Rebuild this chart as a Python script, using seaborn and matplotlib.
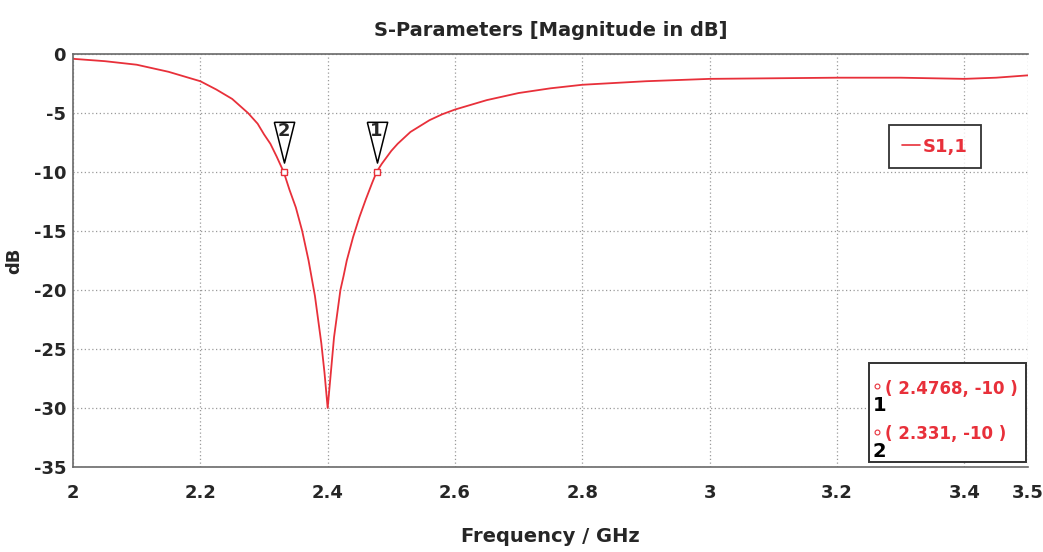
import matplotlib
matplotlib.use('Agg')
import matplotlib.pyplot as plt
import seaborn as sns
import pandas as pd

# S1,1 readings (GHz, dB)
freq = [2.0, 2.05, 2.1, 2.15, 2.2, 2.225, 2.25, 2.275, 2.29, 2.3, 2.31, 2.32, 2.331,
        2.34, 2.35, 2.36, 2.37, 2.38, 2.39, 2.395, 2.4, 2.405, 2.41, 2.415, 2.42,
        2.425, 2.43, 2.44, 2.45, 2.46, 2.47, 2.4768, 2.485, 2.5, 2.51, 2.53, 2.56,
        2.58, 2.6, 2.625, 2.65, 2.7, 2.75, 2.8, 2.85, 2.9, 2.95, 3.0, 3.1, 3.2,
        3.3, 3.4, 3.45, 3.5]
s11 = [-0.4, -0.6, -0.9, -1.5, -2.3, -3.0, -3.8, -5.0, -5.9, -6.8, -7.6, -8.7, -10.0,
       -11.5, -13.0, -15.0, -17.5, -20.5, -24.5, -27.0, -30.0, -27.0, -24.0, -22.0, -20.0,
       -18.8, -17.5, -15.5, -13.8, -12.3, -10.9, -10.0, -9.3, -8.2, -7.6, -6.6, -5.6,
       -5.1, -4.7, -4.3, -3.9, -3.3, -2.9, -2.6, -2.45, -2.3, -2.2, -2.1, -2.05, -2.0,
       -2.0, -2.1, -2.0, -1.8]

marker_ids = ["1", "2"]
marker_f = [2.4768, 2.331]
marker_db = [-10, -10]
marker_txt = ["( 2.4768, -10 )", "( 2.331, -10 )"]

x_ticks = [2, 2.2, 2.4, 2.6, 2.8, 3, 3.2, 3.4, 3.5]
x_tick_labels = ["2", "2.2", "2.4", "2.6", "2.8", "3", "3.2", "3.4", "3.5"]
y_ticks = [0, -5, -10, -15, -20, -25, -30, -35]

df = pd.DataFrame({"Frequency / GHz": freq, "dB": s11})

sns.set_style("white")
plt.rcParams['font.family'] = ['DejaVu Sans']
plt.rcParams['font.weight'] = 'bold'
plt.rcParams['axes.unicode_minus'] = False

RED = '#e8303a'
fig = plt.figure(figsize=(10.43, 5.52), dpi=100)
ax = fig.add_axes([0.070, 0.154, 0.9156, 0.748])

sns.lineplot(data=df, x="Frequency / GHz", y="dB", ax=ax, color=RED, lw=1.3)

ax.set_xlim(2, 3.5)
ax.set_ylim(-35, 0)
ax.set_xticks(x_ticks)
ax.set_xticklabels(x_tick_labels)
ax.set_yticks(y_ticks)
ax.grid(True, color='#9a9a9a', linestyle=(0, (1, 2)), lw=0.9)
ax.tick_params(axis='both', labelsize=13, length=0)
ax.tick_params(axis='x', pad=12)
ax.tick_params(axis='y', pad=5)
for lab in ax.get_xticklabels() + ax.get_yticklabels():
    lab.set_fontweight('bold')
for side in ['left', 'top', 'bottom']:
    ax.spines[side].set_color('#6a6a6a')
    ax.spines[side].set_linewidth(1.2)
ax.spines['right'].set_visible(False)

ax.set_title("S-Parameters [Magnitude in dB]", fontsize=14, fontweight='bold', pad=13)
ax.set_xlabel("Frequency / GHz", fontsize=14, fontweight='bold', labelpad=18)
ax.set_ylabel("dB", fontsize=13, fontweight='bold')
ax.yaxis.set_label_coords(-0.052, 0.5)

# markers on the curve with numbered flags (tall downward pennant)
flag = [(-1, 1), (1, 1), (0, -3), (-1, 1)]
ax.plot(marker_f, marker_db, 's', ms=5, mfc='white', mec=RED, mew=1.0, zorder=5)
for mid, f, d in zip(marker_ids, marker_f, marker_db):
    ax.plot([f], [d + 3.4], marker=flag, ms=44, mfc='white', mec='black',
            mew=1.1, ls='none', zorder=6)
    ax.text(f, d + 3.5, mid, ha='center', va='center', fontsize=13,
            fontweight='bold', zorder=7)

# legend box
leg = ax.legend(handles=[plt.Line2D([], [], color=RED, lw=1.2)], labels=["S1,1"],
                loc='upper right', bbox_to_anchor=(0.96, 0.85), frameon=True,
                fancybox=False, edgecolor='black', handlelength=1.0,
                handletextpad=0.2, borderpad=0.7, prop={'size': 13, 'weight': 'bold'})
leg.get_frame().set_linewidth(1.3)
for t in leg.get_texts():
    t.set_color(RED)

# marker readout box
box = plt.Rectangle((0.833, 0.013), 0.165, 0.24, transform=ax.transAxes,
                    fill=True, fc='white', ec='#333333', lw=1.4, zorder=8)
ax.add_patch(box)
for i, (mid, txt) in enumerate(zip(marker_ids, marker_txt)):
    yy = 0.19 - i * 0.11
    ax.plot([0.842], [yy + 0.005], 'o', ms=3.5, mfc='white', mec=RED, mew=0.8,
            transform=ax.transAxes, zorder=9, clip_on=False)
    ax.text(0.837, yy - 0.055, mid, transform=ax.transAxes, fontsize=14,
            fontweight='bold', color='black', zorder=9)
    ax.text(0.850, yy, txt, transform=ax.transAxes, fontsize=12, fontweight='bold',
            color=RED, va='center', zorder=9)

fig.savefig("out.png", dpi=100)
